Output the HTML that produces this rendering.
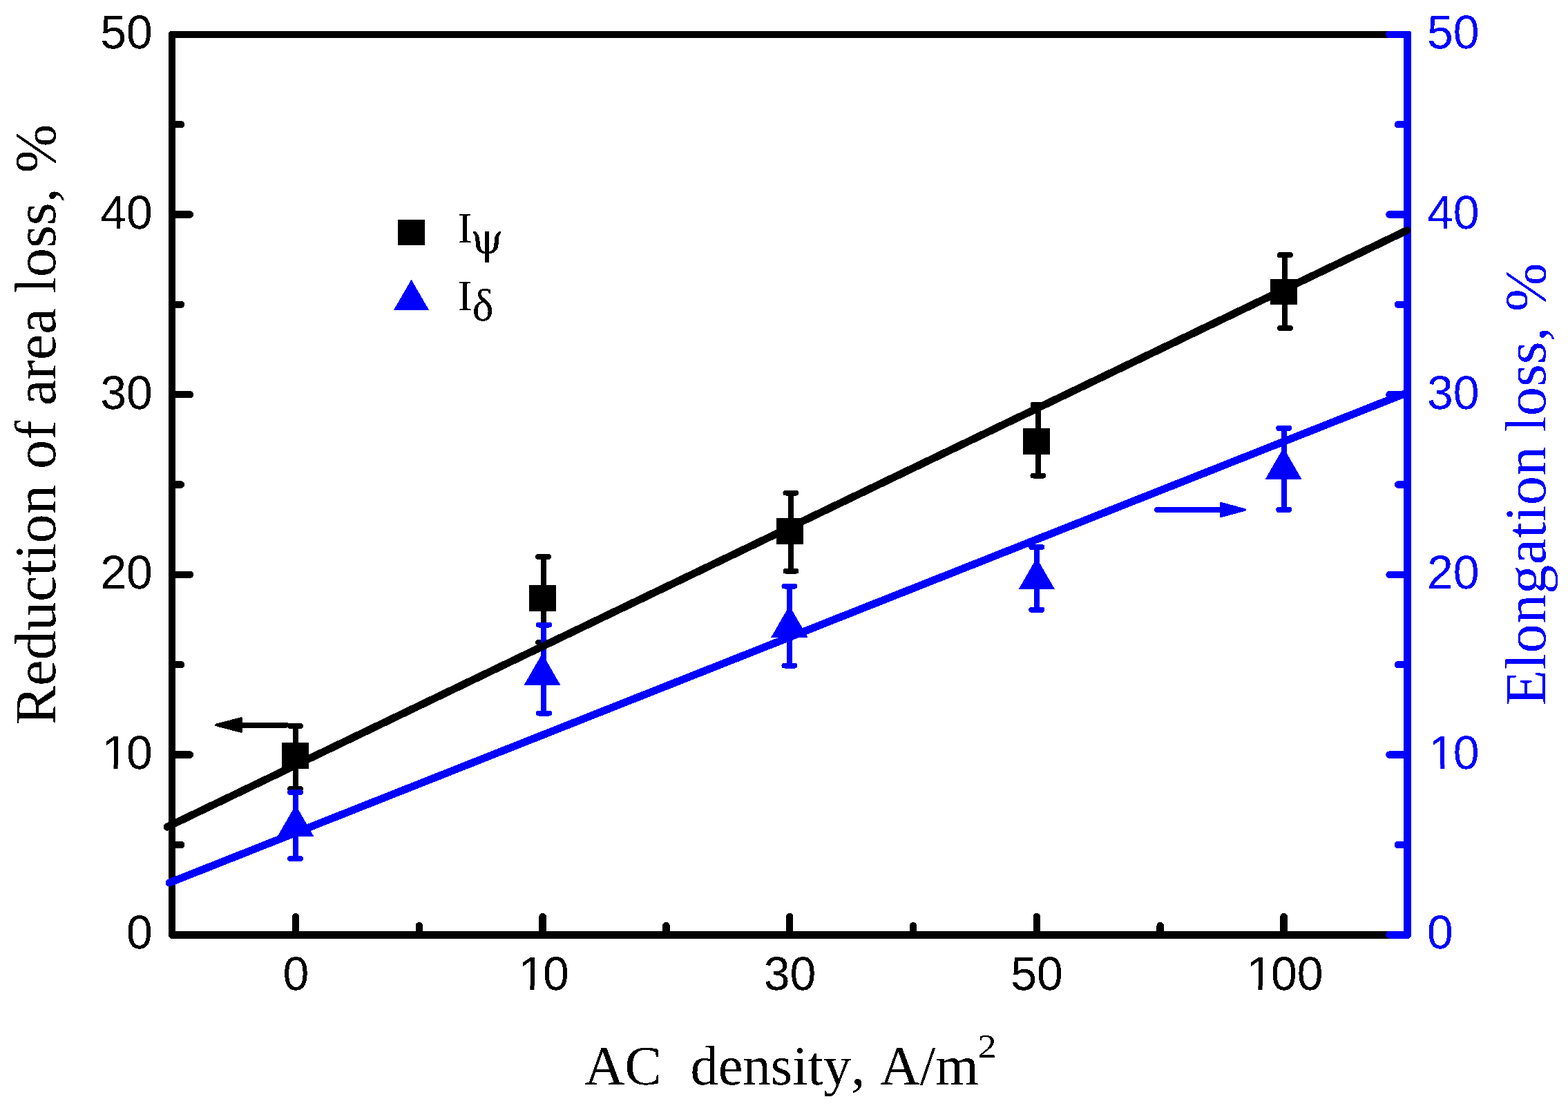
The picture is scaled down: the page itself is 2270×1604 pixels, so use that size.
<!DOCTYPE html>
<html lang="en"><head><meta charset="utf-8"><title>AC density vs ductility loss</title>
<style>html,body{margin:0;padding:0;background:#fff;}body{width:2270px;height:1604px;}svg{display:block;}.s{font-family:"Liberation Sans",sans-serif;font-size:68px;}.t{font-family:"Liberation Serif",serif;}text{filter:url(#aa);white-space:pre;font-kerning:none;text-rendering:geometricPrecision;}.g{font-family:"DejaVu Math TeX Gyre","Liberation Serif",serif;}</style></head><body>
<svg width="2270" height="1604" viewBox="0 0 2270 1604" shape-rendering="crispEdges" role="img" aria-label="Reduction of area loss and elongation loss versus AC density">
<defs><filter id="aa" x="-10%" y="-10%" width="120%" height="120%" color-interpolation-filters="sRGB"><feComponentTransfer><feFuncA type="discrete" tableValues="0 1"/></feComponentTransfer></filter></defs>
<rect x="0" y="0" width="2270" height="1604" fill="#fff"/>
<g id="series-psi">
<g stroke="#000" fill="none"><line x1="427.6" y1="1051.0" x2="427.6" y2="1142.0" stroke-width="8"/><line x1="420.1" y1="1051.0" x2="435.1" y2="1051.0" stroke-width="8" stroke-linecap="round"/><line x1="420.1" y1="1142.0" x2="435.1" y2="1142.0" stroke-width="8" stroke-linecap="round"/></g>
<g stroke="#000" fill="none"><line x1="786.8" y1="806.0" x2="786.8" y2="930.0" stroke-width="8"/><line x1="779.1" y1="806.0" x2="794.1" y2="806.0" stroke-width="8" stroke-linecap="round"/><line x1="779.1" y1="930.0" x2="794.1" y2="930.0" stroke-width="8" stroke-linecap="round"/></g>
<g stroke="#000" fill="none"><line x1="1145.0" y1="713.5" x2="1145.0" y2="826.6" stroke-width="8"/><line x1="1137.5" y1="713.5" x2="1152.5" y2="713.5" stroke-width="8" stroke-linecap="round"/><line x1="1137.5" y1="826.6" x2="1152.5" y2="826.6" stroke-width="8" stroke-linecap="round"/></g>
<g stroke="#000" fill="none"><line x1="1503.0" y1="586.0" x2="1503.0" y2="688.5" stroke-width="8"/><line x1="1495.5" y1="586.0" x2="1510.5" y2="586.0" stroke-width="8" stroke-linecap="round"/><line x1="1495.5" y1="688.5" x2="1510.5" y2="688.5" stroke-width="8" stroke-linecap="round"/></g>
<g stroke="#000" fill="none"><line x1="1860.4" y1="369.2" x2="1860.4" y2="474.9" stroke-width="8"/><line x1="1852.9" y1="369.2" x2="1867.9" y2="369.2" stroke-width="8" stroke-linecap="round"/><line x1="1852.9" y1="474.9" x2="1867.9" y2="474.9" stroke-width="8" stroke-linecap="round"/></g>
<rect x="408.2" y="1075.3" width="38.8" height="37.4" fill="#000"/>
<rect x="765.9" y="847.0" width="39.1" height="37.9" fill="#000"/>
<rect x="1124.2" y="750.0" width="38.8" height="37.6" fill="#000"/>
<rect x="1481.2" y="620.0" width="38.8" height="37.9" fill="#000"/>
<rect x="1839.0" y="404.2" width="39.0" height="36.3" fill="#000"/>
</g>
<g id="series-delta">
<g stroke="#00f" fill="none"><line x1="427.7" y1="1147.0" x2="427.7" y2="1243.0" stroke-width="8"/><line x1="420.2" y1="1147.0" x2="435.2" y2="1147.0" stroke-width="8" stroke-linecap="round"/><line x1="420.2" y1="1243.0" x2="435.2" y2="1243.0" stroke-width="8" stroke-linecap="round"/></g>
<g stroke="#00f" fill="none"><line x1="787.0" y1="904.5" x2="787.0" y2="1032.5" stroke-width="8"/><line x1="780.1" y1="904.5" x2="795.1" y2="904.5" stroke-width="8" stroke-linecap="round"/><line x1="780.1" y1="1032.5" x2="795.1" y2="1032.5" stroke-width="8" stroke-linecap="round"/></g>
<g stroke="#00f" fill="none"><line x1="1143.0" y1="848.5" x2="1143.0" y2="963.5" stroke-width="8"/><line x1="1135.5" y1="848.5" x2="1150.5" y2="848.5" stroke-width="8" stroke-linecap="round"/><line x1="1135.5" y1="963.5" x2="1150.5" y2="963.5" stroke-width="8" stroke-linecap="round"/></g>
<g stroke="#00f" fill="none"><line x1="1500.8" y1="792.0" x2="1500.8" y2="882.7" stroke-width="8"/><line x1="1493.3" y1="792.0" x2="1508.3" y2="792.0" stroke-width="8" stroke-linecap="round"/><line x1="1493.3" y1="882.7" x2="1508.3" y2="882.7" stroke-width="8" stroke-linecap="round"/></g>
<g stroke="#00f" fill="none"><line x1="1858.8" y1="619.8" x2="1858.8" y2="737.8" stroke-width="8"/><line x1="1851.3" y1="619.8" x2="1866.3" y2="619.8" stroke-width="8" stroke-linecap="round"/><line x1="1851.3" y1="737.8" x2="1866.3" y2="737.8" stroke-width="8" stroke-linecap="round"/></g>
<polygon points="428.0,1165.2 454.4,1210.9 401.6,1210.9" fill="#00f"/>
<polygon points="785.0,946.0 811.6,992.1 758.4,992.1" fill="#00f"/>
<polygon points="1142.8,876.6 1169.4,922.6 1116.3,922.6" fill="#00f"/>
<polygon points="1500.8,807.6 1527.1,853.2 1474.5,853.2" fill="#00f"/>
<polygon points="1858.1,647.9 1884.4,693.5 1831.8,693.5" fill="#00f"/>
</g>
<g id="axes" fill="none" stroke-linecap="round">
<rect x="244" y="45" width="10" height="1314" fill="#000" stroke="none"/>
<rect x="244" y="45" width="1790" height="10" fill="#000" stroke="none"/>
<rect x="244" y="1348" width="1790" height="11" fill="#000" stroke="none"/>
<path d="M244 45 h2.4 l-2.4 2.4 z M244 1359 v-3.4 l3.4 3.4 z" fill="#fff" stroke="none"/>
<line x1="249.0" y1="1353.3" x2="275.0" y2="1353.3" stroke="#000" stroke-width="10.5"/>
<line x1="249.0" y1="1223.0" x2="262.0" y2="1223.0" stroke="#000" stroke-width="10.5"/>
<line x1="249.0" y1="1092.6" x2="275.0" y2="1092.6" stroke="#000" stroke-width="10.5"/>
<line x1="249.0" y1="962.2" x2="262.0" y2="962.2" stroke="#000" stroke-width="10.5"/>
<line x1="249.0" y1="831.9" x2="275.0" y2="831.9" stroke="#000" stroke-width="10.5"/>
<line x1="249.0" y1="701.5" x2="262.0" y2="701.5" stroke="#000" stroke-width="10.5"/>
<line x1="249.0" y1="571.2" x2="275.0" y2="571.2" stroke="#000" stroke-width="10.5"/>
<line x1="249.0" y1="440.8" x2="262.0" y2="440.8" stroke="#000" stroke-width="10.5"/>
<line x1="249.0" y1="310.5" x2="275.0" y2="310.5" stroke="#000" stroke-width="10.5"/>
<line x1="249.0" y1="180.1" x2="262.0" y2="180.1" stroke="#000" stroke-width="10.5"/>
<line x1="249.0" y1="49.8" x2="275.0" y2="49.8" stroke="#000" stroke-width="10.5"/>
<line x1="428.0" y1="1353.5" x2="428.0" y2="1327.1" stroke="#000" stroke-width="10.5"/>
<line x1="606.8" y1="1353.5" x2="606.8" y2="1340.2" stroke="#000" stroke-width="10.5"/>
<line x1="785.6" y1="1353.5" x2="785.6" y2="1327.1" stroke="#000" stroke-width="10.5"/>
<line x1="964.4" y1="1353.5" x2="964.4" y2="1340.2" stroke="#000" stroke-width="10.5"/>
<line x1="1143.2" y1="1353.5" x2="1143.2" y2="1327.1" stroke="#000" stroke-width="10.5"/>
<line x1="1322.0" y1="1353.5" x2="1322.0" y2="1340.2" stroke="#000" stroke-width="10.5"/>
<line x1="1500.8" y1="1353.5" x2="1500.8" y2="1327.1" stroke="#000" stroke-width="10.5"/>
<line x1="1679.7" y1="1353.5" x2="1679.7" y2="1340.2" stroke="#000" stroke-width="10.5"/>
<line x1="1858.6" y1="1353.5" x2="1858.6" y2="1327.1" stroke="#000" stroke-width="10.5"/>
<path d="M2032 45 H2041.4 L2043 46.6 V1355.6 L2039.6 1359 H2032 Z" fill="#00f" stroke="none"/>
<line x1="2037.5" y1="1353.3" x2="2011.5" y2="1353.3" stroke="#00f" stroke-width="10.5"/>
<line x1="2037.5" y1="1223.0" x2="2024.0" y2="1223.0" stroke="#00f" stroke-width="10.5"/>
<line x1="2037.5" y1="1092.6" x2="2011.5" y2="1092.6" stroke="#00f" stroke-width="10.5"/>
<line x1="2037.5" y1="962.2" x2="2024.0" y2="962.2" stroke="#00f" stroke-width="10.5"/>
<line x1="2037.5" y1="831.9" x2="2011.5" y2="831.9" stroke="#00f" stroke-width="10.5"/>
<line x1="2037.5" y1="701.5" x2="2024.0" y2="701.5" stroke="#00f" stroke-width="10.5"/>
<line x1="2037.5" y1="571.2" x2="2011.5" y2="571.2" stroke="#00f" stroke-width="10.5"/>
<line x1="2037.5" y1="440.8" x2="2024.0" y2="440.8" stroke="#00f" stroke-width="10.5"/>
<line x1="2037.5" y1="310.5" x2="2011.5" y2="310.5" stroke="#00f" stroke-width="10.5"/>
<line x1="2037.5" y1="180.1" x2="2024.0" y2="180.1" stroke="#00f" stroke-width="10.5"/>
<line x1="2037.5" y1="49.8" x2="2011.5" y2="49.8" stroke="#00f" stroke-width="10.5"/>
</g>
<line x1="242" y1="1197.2" x2="2036.7" y2="333.6" stroke="#000" stroke-width="11" stroke-linecap="round"/>
<line x1="245" y1="1278.0" x2="2037" y2="568.6" stroke="#00f" stroke-width="11" stroke-linecap="round"/>
<g id="arrows" stroke-linejoin="round" stroke-linecap="round">
<line x1="414.5" y1="1049.7" x2="345" y2="1049.7" stroke="#000" stroke-width="7.6"/>
<polygon points="313,1049.5 349.2,1040 349.2,1059" fill="#000" stroke="#000" stroke-width="3.6"/>
<line x1="1675" y1="738" x2="1770" y2="738" stroke="#00f" stroke-width="7.6"/>
<polygon points="1802,738 1767.3,728.5 1767.3,747.5" fill="#00f" stroke="#00f" stroke-width="3.6"/>
</g>
<defs>
<clipPath id="cL" clipPathUnits="userSpaceOnUse"><rect x="-73.34" y="-60" width="24.01" height="53.62"/><rect x="-56.39" y="-10" width="6.06" height="12"/><rect x="-36.94" y="-60" width="42.94" height="70"/></clipPath>
<clipPath id="cR" clipPathUnits="userSpaceOnUse"><rect x="2.30" y="-60" width="24.01" height="53.62"/><rect x="19.25" y="-10" width="6.06" height="12"/><rect x="38.70" y="-60" width="42.94" height="70"/></clipPath>
<clipPath id="cB2" clipPathUnits="userSpaceOnUse"><rect x="-35.52" y="-60" width="24.01" height="53.62"/><rect x="-18.57" y="-10" width="6.06" height="12"/><rect x="0.88" y="-60" width="42.94" height="70"/></clipPath>
<clipPath id="cB3" clipPathUnits="userSpaceOnUse"><rect x="-54.43" y="-60" width="24.01" height="53.62"/><rect x="-37.48" y="-10" width="6.06" height="12"/><rect x="-18.03" y="-60" width="80.76" height="70"/></clipPath>
</defs>
<g class="s">
<text transform="translate(220.9,1372.9) scale(1,1.012)" x="-37.82" fill="#000">0</text>
<text transform="translate(220.9,1113.1) scale(1,1.012)" x="-73.34 -37.82" fill="#000" clip-path="url(#cL)">10</text>
<text transform="translate(220.9,852.4) scale(1,1.012)" x="-75.64 -37.82" fill="#000">20</text>
<text transform="translate(220.9,591.7) scale(1,1.012)" x="-75.64 -37.82" fill="#000">30</text>
<text transform="translate(220.9,331.0) scale(1,1.012)" x="-75.64 -37.82" fill="#000">40</text>
<text transform="translate(220.9,70.3) scale(1,1.012)" x="-75.64 -37.82" fill="#000">50</text>
<text transform="translate(2066.0,1372.9) scale(1,1.012)" x="0.00" fill="#00f">0</text>
<text transform="translate(2066.0,1113.1) scale(1,1.012)" x="2.30 37.82" fill="#00f" clip-path="url(#cR)">10</text>
<text transform="translate(2066.0,852.4) scale(1,1.012)" x="0.00 37.82" fill="#00f">20</text>
<text transform="translate(2066.0,591.7) scale(1,1.012)" x="0.00 37.82" fill="#00f">30</text>
<text transform="translate(2066.0,331.0) scale(1,1.012)" x="0.00 37.82" fill="#00f">40</text>
<text transform="translate(2066.0,70.3) scale(1,1.012)" x="0.00 37.82" fill="#00f">50</text>
<text transform="translate(428.3,1433.4) scale(1,1.012)" x="-18.91" fill="#000">0</text>
<text transform="translate(785.9,1433.4) scale(1,1.012)" x="-35.52 0.00" fill="#000" clip-path="url(#cB2)">10</text>
<text transform="translate(1143.5,1433.4) scale(1,1.012)" x="-37.82 0.00" fill="#000">30</text>
<text transform="translate(1501.1,1433.4) scale(1,1.012)" x="-37.82 0.00" fill="#000">50</text>
<text transform="translate(1858.9,1433.4) scale(1,1.012)" x="-54.43 -18.91 18.91" fill="#000" clip-path="url(#cB3)">100</text>
</g>
<g id="legend">
<rect x="576" y="318" width="39" height="37" fill="#000"/>
<polygon points="595.5,404.7 621,448.8 570,448.8" fill="#00f"/>
<text class="t" x="663.0" y="351.3" font-size="62.3" fill="#000">I<tspan class="g" font-size="62" x="679.8" y="367">ψ</tspan></text>
<text class="t" x="663.0" y="449.2" font-size="62.3" fill="#000">I<tspan font-size="66" x="683.5" y="464">δ</tspan></text>
</g>
<text class="t" transform="translate(845.5,1569.7)" font-size="80.5" fill="#000" xml:space="preserve"><tspan x="0.5">AC  </tspan><tspan x="154.1">density, </tspan><tspan x="428.2">A/m</tspan></text>
<text class="t" transform="translate(1415.3,1531) scale(1.13,1)" font-size="48.5" fill="#000">2</text>
<text class="t" transform="translate(79.9,1049.3) rotate(-90)" font-size="84.5" fill="#000" xml:space="preserve"><tspan x="0.0">Reduction </tspan><tspan x="370.2">of </tspan><tspan x="462.3">area </tspan><tspan x="624.5">loss, </tspan><tspan x="798.9">%</tspan></text>
<text class="t" transform="translate(2237.3,1021.5) rotate(-90)" font-size="84.5" fill="#00f" xml:space="preserve"><tspan x="0.0" letter-spacing="0.50">Elongation </tspan><tspan x="395.7">loss, </tspan><tspan x="570.4">%</tspan></text>
</svg></body></html>
